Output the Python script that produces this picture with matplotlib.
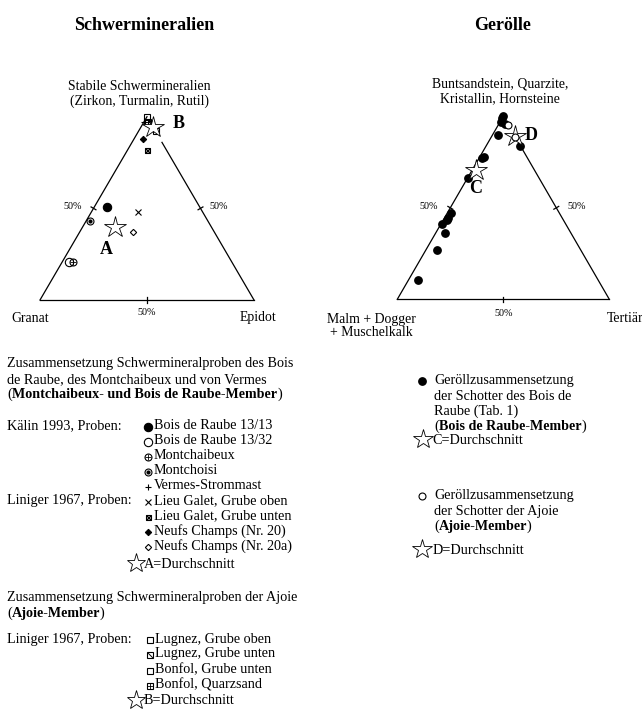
import matplotlib
matplotlib.use("Agg")
import matplotlib.pyplot as plt
from matplotlib.path import Path
import numpy as np

plt.rcParams['font.family'] = ['Liberation Serif', 'DejaVu Serif']

# ---------------- data (ternary compositions in %: top, left, right) ----------
# Schwermineralien: top = Stabile (Zirkon, Turmalin, Rutil), left = Granat, right = Epidot
sm_names = ["Bois de Raube 13/13", "Bois de Raube 13/32", "Montchaibeux", "Montchoisi",
            "Vermes-Strommast", "Lieu Galet, Grube oben", "Lieu Galet, Grube unten",
            "Neufs Champs (Nr. 20)", "Neufs Champs (Nr. 20a)",
            "Lugnez, Grube oben", "Lugnez, Grube unten", "Bonfol, Grube unten", "Bonfol, Quarzsand"]
sm_top   = [51, 21, 21, 43, 97, 48, 82, 88, 37, 100, 96, 92, 97]
sm_right = [6,  3,  5,  2,  0, 22,  9,  4, 25,   0,  4,  8,  2]
sm_left  = [43, 76, 74, 55, 3, 30, 9, 8, 38, 0, 0, 0, 1]
avg_A = (40, 45, 15)    # top, left, right
avg_B = (94.5, 0, 5.5)

# Gerölle: top = Buntsandstein/Quarzite/Kristallin/Hornsteine, left = Malm+Dogger+Muschelkalk, right = Tertiär
br_top   = [100, 99, 97, 96, 90, 84, 78, 77, 66.5, 47, 44.6, 43.3, 41.3, 36.3, 26.8, 10.5]
br_left  = [0, 1, 2.5, 1, 7.5, 0, 20, 21.5, 33.5, 51, 53.7, 55.1, 58.4, 59.4, 68, 85.2]
br_right = [0, 0, 0.5, 3, 2.5, 16, 2, 1.5, 0, 2, 1.7, 1.6, 0.3, 4.3, 5.2, 4.3]
aj_top   = [95.2, 88.5]
aj_left  = [0, 0]
aj_right = [4.8, 11.5]
avg_C = (70.5, 27.5, 2)
avg_D = (89, 0, 11)

# ---------------- figure ----------------
W, H = 642, 713
fig = plt.figure(figsize=(W / 100, H / 100), dpi=100)
ax = fig.add_axes([0, 0, 1, 1])
ax.set_xlim(0, W)
ax.set_ylim(H, 0)
ax.axis('off')
renderer = fig.canvas.get_renderer()

LW = 0.9
TRI1 = dict(L=(40, 300), R=(254, 300), T=(147, 116.7))
TRI2 = dict(L=(397.3, 299.3), R=(609.3, 299.3), T=(503.3, 116.3))


def tern(tri, top, left, right):
    top, left, right = np.asarray(top, float), np.asarray(left, float), np.asarray(right, float)
    s = top + left + right
    x = (top * tri['T'][0] + left * tri['L'][0] + right * tri['R'][0]) / s
    y = (top * tri['T'][1] + left * tri['L'][1] + right * tri['R'][1]) / s
    return x, y


def draw_triangle(tri, right_edge_top):
    L, R, T = tri['L'], tri['R'], tri['T']
    ax.plot([L[0], T[0]], [L[1], T[1]], color='k', lw=LW)
    ax.plot([L[0], R[0]], [L[1], R[1]], color='k', lw=LW)
    ex, ey = tern(tri, right_edge_top, 0, 100 - right_edge_top)
    ax.plot([R[0], ex], [R[1], ey], color='k', lw=LW)
    # 50% ticks
    for a, b in [(L, T), (R, T), (L, R)]:
        mx, my = (a[0] + b[0]) / 2, (a[1] + b[1]) / 2
        dx, dy = b[0] - a[0], b[1] - a[1]
        n = np.hypot(dx, dy)
        px, py = -dy / n * 2.8, dx / n * 2.8
        ax.plot([mx - px, mx + px], [my - py, my + py], color='k', lw=LW)


draw_triangle(TRI1, 86)
draw_triangle(TRI2, 84)

diag = Path([(-0.8, 0.8), (0.8, -0.8)], [Path.MOVETO, Path.LINETO])


def mk(x, y, marker, ms, filled=False, mew=0.8, z=5):
    ax.plot(x, y, linestyle='none', marker=marker, ms=ms,
            mfc='k' if filled else 'none', mec='k', mew=mew, zorder=z)


def sample_marker(name, x, y, scale=1.0):
    s = scale
    if name == "Bois de Raube 13/13":
        mk(x, y, 'o', 6.0 * s, filled=True)
    elif name == "Bois de Raube 13/32":
        mk(x, y, 'o', 6.0 * s)
    elif name == "Montchaibeux":
        mk(x, y, 'o', 5.0 * s); mk(x, y, '+', 5.0 * s, mew=0.6)
    elif name == "Montchoisi":
        mk(x, y, 'o', 5.0 * s); mk(x, y, 'o', 2.2 * s, filled=True)
    elif name == "Vermes-Strommast":
        mk(x, y, '+', 4.5 * s)
    elif name == "Lieu Galet, Grube oben":
        mk(x, y, 'x', 4.0 * s)
    elif name == "Lieu Galet, Grube unten":
        mk(x, y, 's', 3.6 * s); mk(x, y, 'x', 3.6 * s, mew=1.0)
    elif name == "Neufs Champs (Nr. 20)":
        mk(x, y, 'D', 3.2 * s, filled=True)
    elif name == "Neufs Champs (Nr. 20a)":
        mk(x, y, 'D', 3.2 * s)
    elif name == "Lugnez, Grube oben":
        mk(x, y, 's', 4.2 * s)
    elif name == "Lugnez, Grube unten":
        mk(x, y, 's', 4.2 * s); mk(x, y, diag, 3.4 * s, mew=0.7)
    elif name == "Bonfol, Grube unten":
        mk(x, y, 's', 4.2 * s)
    elif name == "Bonfol, Quarzsand":
        mk(x, y, 's', 4.2 * s); mk(x, y, '+', 4.2 * s, mew=0.6)


def star(x, y, ms=16):
    ax.plot(x, y, linestyle='none', marker='*', ms=ms, mfc='white', mec='k', mew=0.6, zorder=6)


# --- left triangle samples
xs, ys = tern(TRI1, sm_top, sm_left, sm_right)
for n, x, y in zip(sm_names, xs, ys):
    sample_marker(n, x, y)
ax_, ay_ = tern(TRI1, *avg_A)
star(ax_, ay_)
bx_, by_ = tern(TRI1, *avg_B)
star(bx_, by_)

# --- right triangle samples
xs, ys = tern(TRI2, br_top, br_left, br_right)
ax.plot(xs, ys, linestyle='none', marker='o', ms=5.3, mfc='k', mec='k', zorder=5)
cx_, cy_ = tern(TRI2, *avg_C)
star(cx_, cy_)
dx_, dy_ = tern(TRI2, *avg_D)
star(dx_, dy_)
xs, ys = tern(TRI2, aj_top, aj_left, aj_right)
ax.plot(xs, ys, linestyle='none', marker='o', ms=5.0, mfc='white', mec='k', mew=0.8, zorder=7)

# ---------------- texts ----------------
FS = 10.2
FV = 9.9
ax.text(144, 25, "Schwermineralien", fontsize=13, fontweight='bold', ha='center', va='center')
ax.text(503, 25, "Gerölle", fontsize=13, fontweight='bold', ha='center', va='center')

ax.text(139.5, 94, "Stabile Schwermineralien\n(Zirkon, Turmalin, Rutil)", fontsize=FV,
        ha='center', va='center', linespacing=1.1)
ax.text(30, 318, "Granat", fontsize=FV, ha='center', va='center')
ax.text(258.5, 318, "Epidot", fontsize=FV, ha='center', va='center')
ax.text(72.5, 206.5, "50%", fontsize=7.3, ha='center', va='center')
ax.text(218.5, 206.5, "50%", fontsize=7.3, ha='center', va='center')
ax.text(147, 312.5, "50%", fontsize=7.3, ha='center', va='center')
ax.text(106.7, 249.5, "A", fontsize=13, fontweight='bold', ha='center', va='center')
ax.text(179, 123.5, "B", fontsize=13, fontweight='bold', ha='center', va='center')

ax.text(500, 91.5, "Buntsandstein, Quarzite,\nKristallin, Hornsteine", fontsize=FV,
        ha='center', va='center', linespacing=1.1)
ax.text(371, 326, "Malm + Dogger\n+ Muschelkalk", fontsize=FV, ha='center', va='center', linespacing=1.1)
ax.text(625, 318, "Tertiär", fontsize=FV, ha='center', va='center')
ax.text(428.5, 206.5, "50%", fontsize=7.3, ha='center', va='center')
ax.text(576.5, 206.5, "50%", fontsize=7.3, ha='center', va='center')
ax.text(503.3, 314, "50%", fontsize=7.3, ha='center', va='center')
ax.text(476, 188.5, "C", fontsize=13, fontweight='bold', ha='center', va='center')
ax.text(531, 136, "D", fontsize=13, fontweight='bold', ha='center', va='center')


def mixed(x, y, parts):
    """parts: list of (text, bold, extra_gap) placed one after another on one line."""
    cur = x
    for s, b, g in parts:
        t = ax.text(cur, y, s, fontsize=FS, fontweight='bold' if b else 'normal',
                    ha='left', va='baseline')
        cur += t.get_window_extent(renderer).width + g


def line(x, y, s):
    ax.text(x, y, s, fontsize=FS, ha='left', va='center')


BL = 3.6  # center -> baseline offset (pixels)

# --- left legend
line(7, 364, "Zusammensetzung Schwermineralproben des Bois")
line(7, 379.5, "de Raube, des Montchaibeux und von Vermes")
mixed(7, 394.5 + BL, [("(", False, 0.3), ("Montchaibeux- und Bois de Raube-Member", True, 0), (")", False, 0)])

line(7, 425.5, "Kälin 1993, Proben:")
line(7, 500.5, "Liniger 1967, Proben:")
row_y = [425.5, 440.5, 455.5, 470.5, 485.5, 500.5, 515.5, 531, 546]
for n, yy in zip(sm_names[:9], row_y):
    sample_marker(n, 147.5, yy + 1)
    line(153.5, yy, n)
star(135.5, 563, ms=14)
line(144, 564, "A=Durchschnitt")

line(7, 598, "Zusammensetzung Schwermineralproben der Ajoie")
mixed(7, 613 + BL, [("(", False, 0.3), ("Ajoie-Member", True, -1.0), (")", False, 0)])
line(7, 639, "Liniger 1967, Proben:")
row_y2 = [639, 654, 669.5, 685]
for n, yy in zip(sm_names[9:], row_y2):
    sample_marker(n, 149.5, yy + 1)
    line(155, yy, n)
star(135.5, 700, ms=14)
line(144, 701, "B=Durchschnitt")

# --- right legend
ax.plot(422.3, 380.7, linestyle='none', marker='o', ms=5.3, mfc='k', mec='k')
for s, yy in zip(["Geröllzusammensetzung", "der Schotter des Bois de", "Raube (Tab. 1)"],
                 [380.7, 396, 411.3]):
    line(434, yy, s)
mixed(434, 426.3 + BL, [("(", False, 0.3), ("Bois de Raube-Member", True, 0), (")", False, 0)])
star(422.7, 439, ms=15)
line(432.5, 441, "C=Durchschnitt")

ax.plot(422.3, 495.7, linestyle='none', marker='o', ms=5.0, mfc='white', mec='k', mew=0.8)
for s, yy in zip(["Geröllzusammensetzung", "der Schotter der Ajoie"], [495.7, 511.7]):
    line(434, yy, s)
mixed(434, 526.7 + BL, [("(", False, 0.3), ("Ajoie-Member", True, -1.0), (")", False, 0)])
star(421.7, 548.5, ms=15)
line(432.5, 550, "D=Durchschnitt")

fig.savefig("out.png", dpi=100)
